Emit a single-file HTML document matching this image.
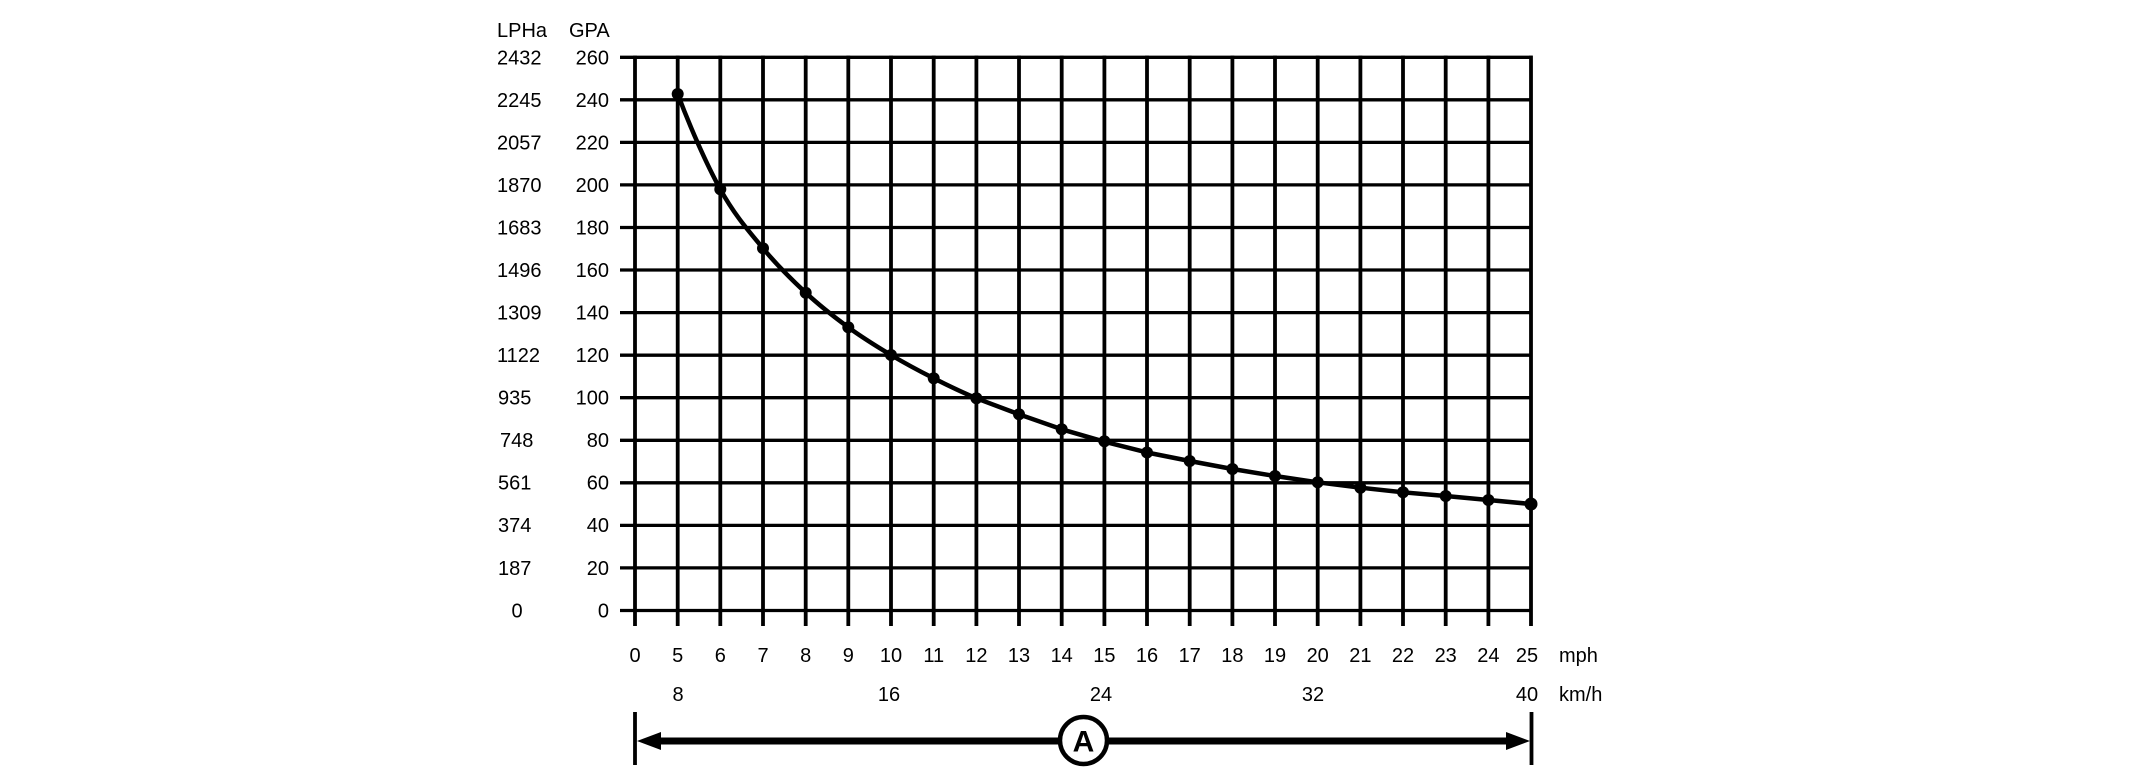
<!DOCTYPE html>
<html>
<head>
<meta charset="utf-8">
<style>
  html, body { margin: 0; padding: 0; background: #ffffff; }
  svg { display: block; }
  text { font-family: "Liberation Sans", Arial, sans-serif; font-size: 20px; fill: #000; }
</style>
</head>
<body>
<svg width="2146" height="780" viewBox="0 0 2146 780" xmlns="http://www.w3.org/2000/svg">
  <rect x="0" y="0" width="2146" height="780" fill="#fff"/>

  <!-- horizontal grid lines -->
  <g stroke="#000" stroke-width="3.3">
    <line x1="620" y1="610.5" x2="1532.5" y2="610.5"/>
    <line x1="620" y1="567.9" x2="1532.5" y2="567.9"/>
    <line x1="620" y1="525.4" x2="1532.5" y2="525.4"/>
    <line x1="620" y1="482.8" x2="1532.5" y2="482.8"/>
    <line x1="620" y1="440.3" x2="1532.5" y2="440.3"/>
    <line x1="620" y1="397.7" x2="1532.5" y2="397.7"/>
    <line x1="620" y1="355.2" x2="1532.5" y2="355.2"/>
    <line x1="620" y1="312.6" x2="1532.5" y2="312.6"/>
    <line x1="620" y1="270.0" x2="1532.5" y2="270.0"/>
    <line x1="620" y1="227.5" x2="1532.5" y2="227.5"/>
    <line x1="620" y1="184.9" x2="1532.5" y2="184.9"/>
    <line x1="620" y1="142.4" x2="1532.5" y2="142.4"/>
    <line x1="620" y1="99.8" x2="1532.5" y2="99.8"/>
    <line x1="620" y1="57.3" x2="1532.5" y2="57.3"/>
  </g>

  <!-- vertical grid lines -->
  <g stroke="#000" stroke-width="3.8">
    <line x1="635" y1="55.6" x2="635" y2="626"/>
    <line x1="677.7" y1="55.6" x2="677.7" y2="626"/>
    <line x1="720.3" y1="55.6" x2="720.3" y2="626"/>
    <line x1="763" y1="55.6" x2="763" y2="626"/>
    <line x1="805.7" y1="55.6" x2="805.7" y2="626"/>
    <line x1="848.3" y1="55.6" x2="848.3" y2="626"/>
    <line x1="891" y1="55.6" x2="891" y2="626"/>
    <line x1="933.7" y1="55.6" x2="933.7" y2="626"/>
    <line x1="976.4" y1="55.6" x2="976.4" y2="626"/>
    <line x1="1019" y1="55.6" x2="1019" y2="626"/>
    <line x1="1061.7" y1="55.6" x2="1061.7" y2="626"/>
    <line x1="1104.4" y1="55.6" x2="1104.4" y2="626"/>
    <line x1="1147" y1="55.6" x2="1147" y2="626"/>
    <line x1="1189.7" y1="55.6" x2="1189.7" y2="626"/>
    <line x1="1232.4" y1="55.6" x2="1232.4" y2="626"/>
    <line x1="1275" y1="55.6" x2="1275" y2="626"/>
    <line x1="1317.7" y1="55.6" x2="1317.7" y2="626"/>
    <line x1="1360.4" y1="55.6" x2="1360.4" y2="626"/>
    <line x1="1403" y1="55.6" x2="1403" y2="626"/>
    <line x1="1445.7" y1="55.6" x2="1445.7" y2="626"/>
    <line x1="1488.4" y1="55.6" x2="1488.4" y2="626"/>
    <line x1="1531" y1="55.6" x2="1531" y2="626"/>
  </g>

  <!-- curve -->
  <path d="M677.7,94 C689.7,126 706.1,163.6 720.3,189.3 C734.5,215 748.8,231.1 763,248.3 C777.2,265.5 791.5,279.5 805.7,292.7 C819.9,305.9 834.1,316.9 848.3,327.3 C862.5,337.7 876.8,346.5 891,355 C905.2,363.5 919.5,371.1 933.7,378.3 C947.9,385.5 962.2,392.3 976.4,398.3 L1019,414.3 L1061.7,429.3 L1104.4,441.7 L1147,452.5 L1189.7,461 L1232.4,469 L1275,476 L1317.7,482.3 L1360.4,487.7 L1403,492.3 L1445.7,496 L1488.4,500 L1531,504"
        fill="none" stroke="#000" stroke-width="4.5" stroke-linejoin="round" stroke-linecap="round"/>

  <!-- data points -->
  <g fill="#000">
    <circle cx="677.7" cy="94" r="6"/>
    <circle cx="720.3" cy="189.3" r="6"/>
    <circle cx="763" cy="248.3" r="6"/>
    <circle cx="805.7" cy="292.7" r="6"/>
    <circle cx="848.3" cy="327.3" r="6"/>
    <circle cx="891" cy="355" r="6"/>
    <circle cx="933.7" cy="378.3" r="6"/>
    <circle cx="976.4" cy="398.3" r="6"/>
    <circle cx="1019" cy="414.3" r="6"/>
    <circle cx="1061.7" cy="429.3" r="6"/>
    <circle cx="1104.4" cy="441.2" r="6"/>
    <circle cx="1147" cy="452.5" r="6"/>
    <circle cx="1189.7" cy="461" r="6"/>
    <circle cx="1232.4" cy="469" r="6"/>
    <circle cx="1275" cy="476" r="6"/>
    <circle cx="1317.7" cy="482.3" r="6"/>
    <circle cx="1360.4" cy="487.7" r="6"/>
    <circle cx="1403" cy="492.3" r="6"/>
    <circle cx="1445.7" cy="496" r="6"/>
    <circle cx="1488.4" cy="500" r="6"/>
    <circle cx="1531" cy="504" r="6.5"/>
  </g>

  <!-- headers -->
  <text x="497" y="37">LPHa</text>
  <text x="569" y="37">GPA</text>

  <!-- GPA labels -->
  <g text-anchor="end">
    <text x="609" y="64.5">260</text>
    <text x="609" y="107">240</text>
    <text x="609" y="149.5">220</text>
    <text x="609" y="192">200</text>
    <text x="609" y="234.5">180</text>
    <text x="609" y="277">160</text>
    <text x="609" y="319.5">140</text>
    <text x="609" y="362">120</text>
    <text x="609" y="404.5">100</text>
    <text x="609" y="447">80</text>
    <text x="609" y="489.5">60</text>
    <text x="609" y="532">40</text>
    <text x="609" y="575">20</text>
    <text x="609" y="617.5">0</text>
  </g>

  <!-- LPHa labels -->
  <g>
    <text x="497" y="64.5">2432</text>
    <text x="497" y="107">2245</text>
    <text x="497" y="149.5">2057</text>
    <text x="497" y="192">1870</text>
    <text x="497" y="234.5">1683</text>
    <text x="497" y="277">1496</text>
    <text x="497" y="319.5">1309</text>
    <text x="497" y="362">1122</text>
    <text x="498" y="404.5">935</text>
    <text x="500" y="447">748</text>
    <text x="498" y="489.5">561</text>
    <text x="498" y="532">374</text>
    <text x="498" y="575">187</text>
    <text x="517" y="617.5" text-anchor="middle">0</text>
  </g>

  <!-- mph labels -->
  <g text-anchor="middle">
    <text x="635" y="662">0</text>
    <text x="677.7" y="662">5</text>
    <text x="720.3" y="662">6</text>
    <text x="763" y="662">7</text>
    <text x="805.7" y="662">8</text>
    <text x="848.3" y="662">9</text>
    <text x="891" y="662">10</text>
    <text x="933.7" y="662">11</text>
    <text x="976.4" y="662">12</text>
    <text x="1019" y="662">13</text>
    <text x="1061.7" y="662">14</text>
    <text x="1104.4" y="662">15</text>
    <text x="1147" y="662">16</text>
    <text x="1189.7" y="662">17</text>
    <text x="1232.4" y="662">18</text>
    <text x="1275" y="662">19</text>
    <text x="1317.7" y="662">20</text>
    <text x="1360.4" y="662">21</text>
    <text x="1403" y="662">22</text>
    <text x="1445.7" y="662">23</text>
    <text x="1488.4" y="662">24</text>
    <text x="1527" y="662">25</text>
  </g>
  <text x="1559" y="662">mph</text>

  <!-- km/h labels -->
  <g text-anchor="middle">
    <text x="678" y="701">8</text>
    <text x="889" y="701">16</text>
    <text x="1101" y="701">24</text>
    <text x="1313" y="701">32</text>
    <text x="1527" y="701">40</text>
  </g>
  <text x="1559" y="701">km/h</text>

  <!-- range arrow -->
  <g stroke="#000">
    <line x1="635" y1="712" x2="635" y2="765" stroke-width="3.8"/>
    <line x1="1531.5" y1="712" x2="1531.5" y2="765" stroke-width="3.8"/>
    <line x1="655" y1="741" x2="1510" y2="741" stroke-width="7"/>
  </g>
  <polygon points="637,741 661,732 661,750" fill="#000"/>
  <polygon points="1530,741 1506,732 1506,750" fill="#000"/>
  <circle cx="1083.5" cy="740.5" r="23.5" fill="#fff" stroke="#000" stroke-width="4.5"/>
  <text x="1083.5" y="751.5" text-anchor="middle" style="font-size:30px;font-weight:bold;">A</text>
</svg>
</body>
</html>
